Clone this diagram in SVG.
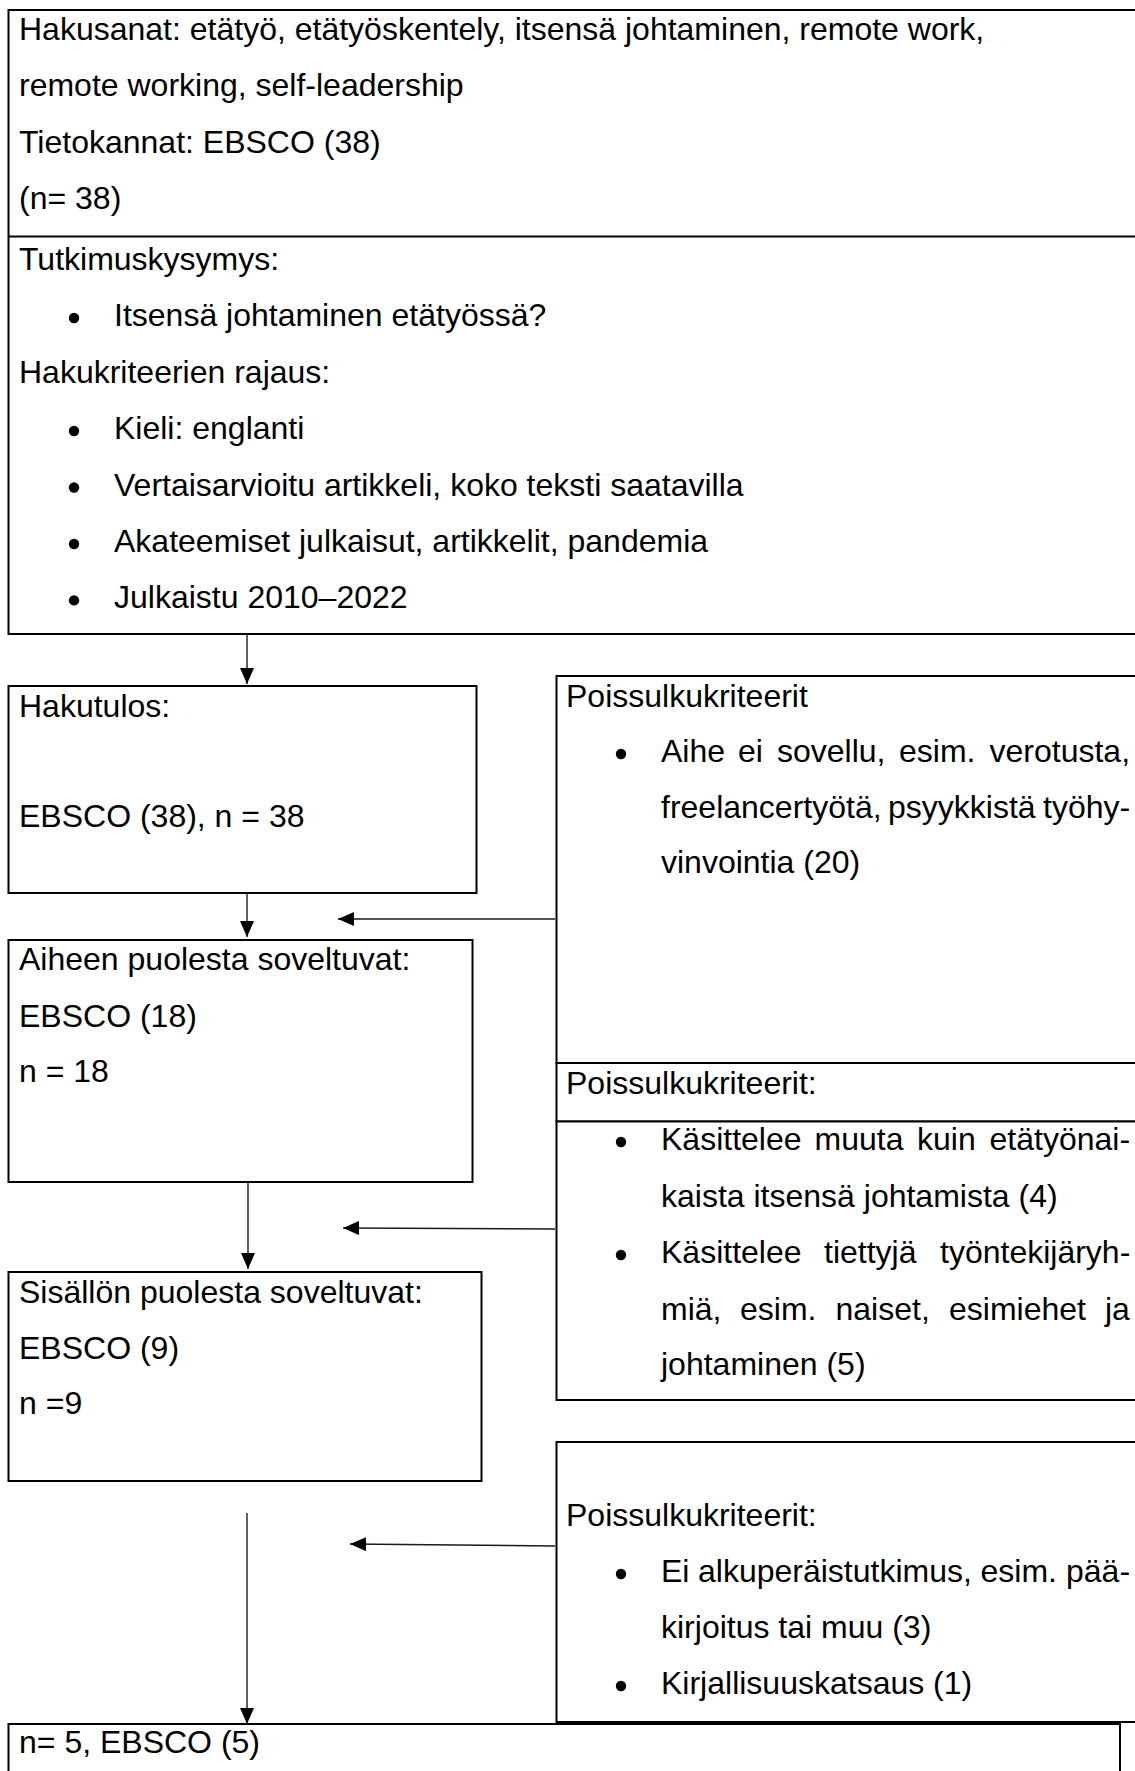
<svg xmlns="http://www.w3.org/2000/svg" width="1135" height="1771" viewBox="0 0 1135 1771">
<style>
.t{font-family:"Liberation Sans",Arial,sans-serif;font-size:32px;fill:#000}
.box{fill:#fff;stroke:#000;stroke-width:2}
.ln{stroke:#000;stroke-width:2;fill:none}
.conn{stroke:#1a1a1a;stroke-width:1.4;fill:none}
.bul{fill:#000}
</style>
<defs>
<marker id="ah" markerUnits="userSpaceOnUse" markerWidth="16" markerHeight="14" refX="16" refY="7" orient="auto">
<path d="M0,0 L16,7 L0,14 Z" fill="#000"/>
</marker>
</defs>
<rect width="1135" height="1771" fill="#fff"/>

<g id="search">
<rect class="box" x="8.5" y="10" width="1140" height="624"/>
<line class="ln" x1="8.5" y1="236.5" x2="1145" y2="236.5"/>
<text class="t" x="19" y="39.5">Hakusanat: etätyö, etätyöskentely, itsensä johtaminen, remote work,</text>
<text class="t" x="19" y="96">remote working, self-leadership</text>
<text class="t" x="19" y="152.5">Tietokannat: EBSCO (38)</text>
<text class="t" x="19" y="209">(n= 38)</text>
<text class="t" x="19" y="270">Tutkimuskysymys:</text>
<circle class="bul" cx="74" cy="318" r="5.2"/>
<text class="t" x="114" y="326.4">Itsensä johtaminen etätyössä?</text>
<text class="t" x="19" y="382.8">Hakukriteerien rajaus:</text>
<circle class="bul" cx="74" cy="431" r="5.2"/>
<text class="t" x="114" y="439.2">Kieli: englanti</text>
<circle class="bul" cx="74" cy="487.5" r="5.2"/>
<text class="t" x="114" y="495.6">Vertaisarvioitu artikkeli, koko teksti saatavilla</text>
<circle class="bul" cx="74" cy="544" r="5.2"/>
<text class="t" x="114" y="552">Akateemiset julkaisut, artikkelit, pandemia</text>
<circle class="bul" cx="74" cy="600.4" r="5.2"/>
<text class="t" x="114" y="608.4">Julkaistu 2010–2022</text>
</g>

<g id="hakutulos">
<rect class="box" x="8.5" y="686" width="468" height="207"/>
<text class="t" x="19" y="717">Hakutulos:</text>
<text class="t" x="19" y="827">EBSCO (38), n = 38</text>
</g>

<g id="aiheen">
<rect class="box" x="8.5" y="940" width="464" height="242"/>
<text class="t" x="19" y="970">Aiheen puolesta soveltuvat:</text>
<text class="t" x="19" y="1026.5">EBSCO (18)</text>
<text class="t" x="19" y="1082">n = 18</text>
</g>

<g id="sisallon">
<rect class="box" x="8.5" y="1272" width="473" height="209"/>
<text class="t" x="19" y="1303">Sisällön puolesta soveltuvat:</text>
<text class="t" x="19" y="1358.5">EBSCO (9)</text>
<text class="t" x="19" y="1414">n =9</text>
</g>

<g id="poissulku1">
<rect class="box" x="556.5" y="676" width="600" height="387"/>
<text class="t" x="566" y="706.5">Poissulkukriteerit</text>
<circle class="bul" cx="621" cy="754" r="5.2"/>
<text class="t" y="762"><tspan x="661">Aihe</tspan><tspan x="738">ei</tspan><tspan x="777">sovellu,</tspan><tspan x="899">esim.</tspan><tspan x="989.5">verotusta,</tspan></text>
<text class="t" y="817.5"><tspan x="661">freelancertyötä,</tspan><tspan x="888">psyykkistä</tspan><tspan x="1043">työhy-</tspan></text>
<text class="t" x="661" y="873">vinvointia (20)</text>
</g>

<g id="poissulku2">
<rect class="box" x="556.5" y="1063" width="600" height="58.5"/>
<text class="t" x="566" y="1094">Poissulkukriteerit:</text>
<rect class="box" x="556.5" y="1121.5" width="600" height="278.5"/>
<circle class="bul" cx="621" cy="1142" r="5.2"/>
<text class="t" y="1150"><tspan x="661">Käsittelee</tspan><tspan x="814.5">muuta</tspan><tspan x="917">kuin</tspan><tspan x="989.5">etätyönai-</tspan></text>
<text class="t" x="661" y="1206.5">kaista itsensä johtamista (4)</text>
<circle class="bul" cx="621" cy="1255" r="5.2"/>
<text class="t" y="1263"><tspan x="661">Käsittelee</tspan><tspan x="824">tiettyjä</tspan><tspan x="940">työntekijäryh-</tspan></text>
<text class="t" y="1319.5"><tspan x="661">miä,</tspan><tspan x="740">esim.</tspan><tspan x="835.5">naiset,</tspan><tspan x="949">esimiehet</tspan><tspan x="1105">ja</tspan></text>
<text class="t" x="661" y="1375">johtaminen (5)</text>
</g>

<g id="poissulku3">
<rect class="box" x="556.5" y="1442" width="600" height="280"/>
<text class="t" x="566" y="1526">Poissulkukriteerit:</text>
<circle class="bul" cx="621" cy="1574" r="5.2"/>
<text class="t" y="1582"><tspan x="661">Ei</tspan><tspan x="698">alkuperäistutkimus,</tspan><tspan x="980.5">esim.</tspan><tspan x="1066">pää-</tspan></text>
<text class="t" x="661" y="1638">kirjoitus tai muu (3)</text>
<circle class="bul" cx="621" cy="1686" r="5.2"/>
<text class="t" x="661" y="1694">Kirjallisuuskatsaus (1)</text>
</g>

<g id="final">
<rect class="box" x="8.5" y="1724" width="1111.5" height="60"/>
<text class="t" x="19" y="1753">n= 5, EBSCO (5)</text>
</g>

<g id="connectors">
<path class="conn" d="M247,635 L247,684" marker-end="url(#ah)"/>
<path class="conn" d="M247,894 L247,937" marker-end="url(#ah)"/>
<path class="conn" d="M248,1183 L248,1269" marker-end="url(#ah)"/>
<path class="conn" d="M247,1513 L247,1724" marker-end="url(#ah)"/>
<path class="conn" d="M555,919 L338,919" marker-end="url(#ah)"/>
<path class="conn" d="M555,1229 L343,1228" marker-end="url(#ah)"/>
<path class="conn" d="M555,1546 L350,1544" marker-end="url(#ah)"/>
</g>
</svg>
